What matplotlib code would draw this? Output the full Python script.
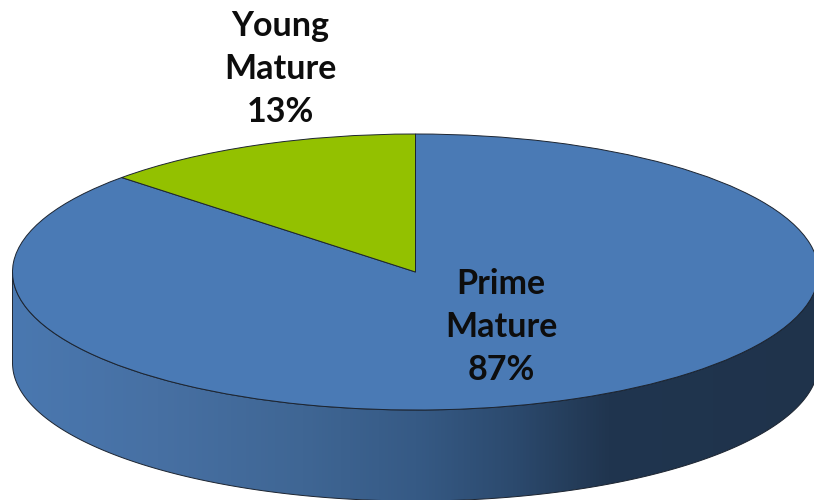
import numpy as np
import matplotlib.pyplot as plt
from matplotlib.colors import LinearSegmentedColormap
from matplotlib.patches import Polygon

labels = ['Prime\nMature', 'Young\nMature']
shares = [87, 13]
colors = ['#4A7AB5', '#93C100']

# disc size in pixels
W, H = 814, 500
cx, cy = 415.5, 272
rx, ry = 403, 138
depth = 91


def to_x(px):
    return (px - cx) / rx


def to_y(py):
    return (cy - py) / ry


fig = plt.figure(figsize=(W / 100, H / 100), dpi=100)
ax = fig.add_axes([0, 0, 1, 1])

ax.pie(shares, colors=colors, startangle=90, counterclock=False, radius=1,
       wedgeprops={'edgecolor': '#1c2430', 'linewidth': 0.7, 'zorder': 5})
ax.set_aspect('auto')

# side wall of the disc, horizontal gradient clipped to the lower rim
t = np.linspace(np.pi, 2 * np.pi, 200)
rim_x, rim_y = np.cos(t), np.sin(t)
drop = depth / ry
outline = np.column_stack([
    np.r_[rim_x, rim_x[::-1]],
    np.r_[rim_y, rim_y[::-1] - drop],
])
wall = Polygon(outline, closed=True, facecolor='none', edgecolor='#1c2430',
               linewidth=0.7, zorder=4)
ax.add_patch(wall)

cmap = LinearSegmentedColormap.from_list('wall', [
    (0.00, '#4A78B0'), (0.18, '#4770A3'), (0.36, '#3F6694'),
    (0.50, '#365A85'), (0.62, '#2C4A6E'), (0.74, '#20354F'), (1.00, '#1F334B'),
])
grad = ax.imshow(np.linspace(0, 1, 512).reshape(1, -1), cmap=cmap, aspect='auto',
                 extent=(-1, 1, -1 - drop, 0), zorder=3)
grad.set_clip_path(wall)
ax.set_xlim(to_x(0), to_x(W))
ax.set_ylim(to_y(H), to_y(0))

font = {'family': 'Lato', 'weight': 'bold', 'size': 24.5, 'color': '#0d0d0d',
        'ha': 'center', 'va': 'center', 'linespacing': 1.43, 'zorder': 6}
text_pos = [(501, 327), (280, 69)]
for name, share, (px, py) in zip(labels, shares, text_pos):
    ax.text(to_x(px), to_y(py), f'{name}\n{share}%', **font)

fig.savefig('out.png', dpi=100, facecolor='white')
